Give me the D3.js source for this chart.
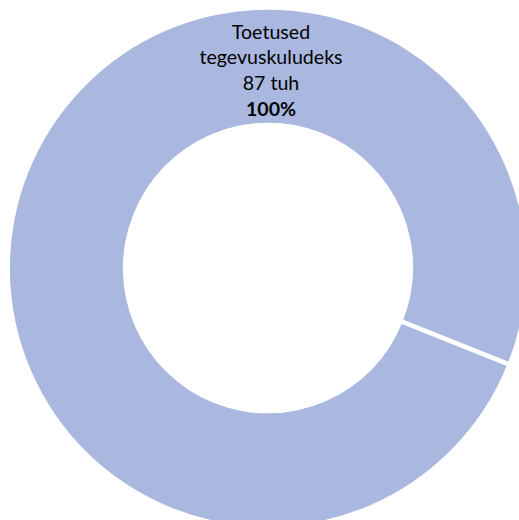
<!DOCTYPE html>
<html><head><meta charset="utf-8">
<script src="https://cdn.jsdelivr.net/npm/d3@7"></script>
<style>html,body{margin:0;padding:0;background:#fff;overflow:hidden}</style>
</head><body>
<svg id="chart" width="519" height="520"></svg>
<script>
const categories = ["Toetused tegevuskuludeks"];
const labelLines = [["Toetused", "tegevuskuludeks"]];
const values = [87];
const valueLabels = ["87 tuh"];
const percentLabels = ["100%"];

const W = 519, H = 520;
const cx = 268, cy = 268, outerR = 258, innerR = 145;
const firstSliceAngle = 111.8 * Math.PI / 180;
const fill = "#aab8e0";
const font = "Lato, 'Liberation Sans', sans-serif";

const svg = d3.select("#chart");
const g = svg.append("g").attr("transform", `translate(${cx},${cy})`);

const pie = d3.pie().sort(null)
  .startAngle(firstSliceAngle).endAngle(firstSliceAngle + 2 * Math.PI);
const arcs = pie(values);
const arc = d3.arc().innerRadius(innerR).outerRadius(outerR);

g.selectAll("path.slice").data(arcs).enter().append("path")
  .attr("class", "slice").attr("d", arc).attr("fill", fill);

// slice boundary lines
g.selectAll("line.sep").data(arcs).enter().append("line")
  .attr("class", "sep")
  .attr("x1", d => (innerR - 2) * Math.sin(d.startAngle))
  .attr("y1", d => -(innerR - 2) * Math.cos(d.startAngle))
  .attr("x2", d => (outerR + 2) * Math.sin(d.startAngle))
  .attr("y2", d => -(outerR + 2) * Math.cos(d.startAngle))
  .attr("stroke", "#fff").attr("stroke-width", 4.5);

// labels
const fs = 19.6, lh = 25.8;
arcs.forEach((d, i) => {
  const lines = labelLines[i].concat([valueLabels[i]]);
  const t = svg.append("text").attr("text-anchor", "middle")
    .attr("font-family", font).attr("font-size", fs).attr("fill", "#000");
  const x0 = 271, y0 = 38.5;
  lines.forEach((s, j) => t.append("tspan").attr("x", x0).attr("y", y0 + j * lh).text(s));
  t.append("tspan").attr("x", x0).attr("y", y0 + lines.length * lh)
    .attr("font-weight", "bold").text(percentLabels[i]);
});
</script>
</body></html>
